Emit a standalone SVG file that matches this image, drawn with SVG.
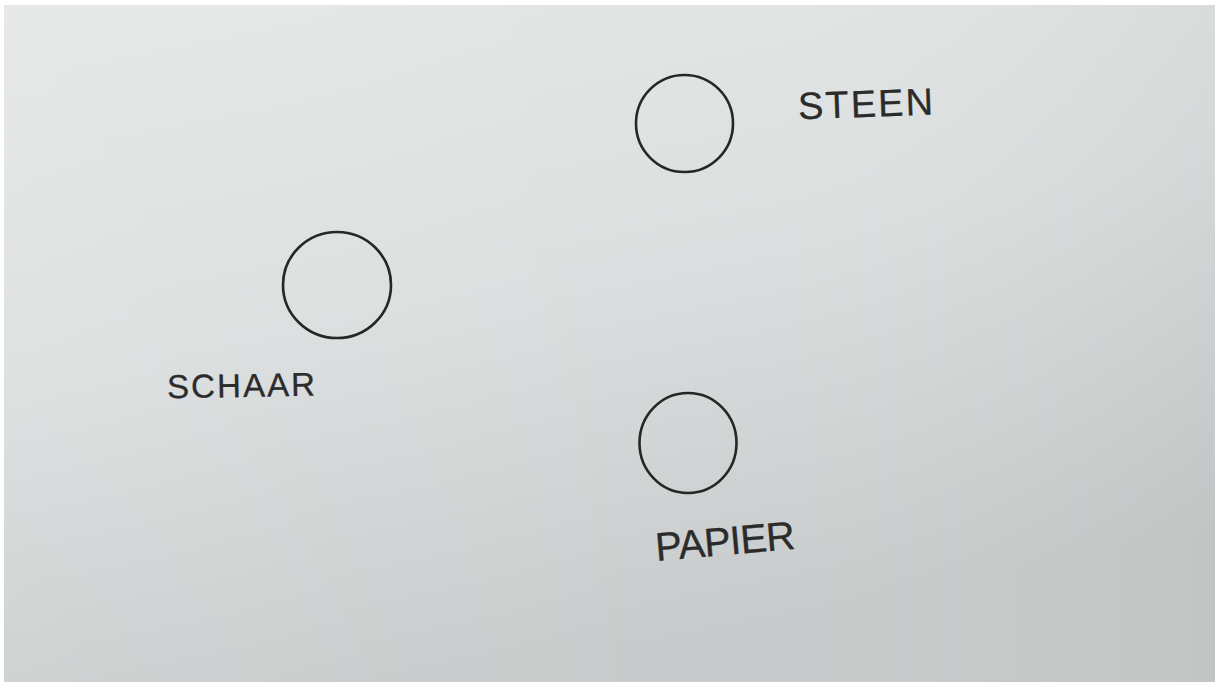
<svg xmlns="http://www.w3.org/2000/svg" width="1215" height="682" viewBox="0 0 1215 682">
  <defs>
    <linearGradient id="paper" x1="0" y1="0" x2="0.35" y2="1">
      <stop offset="0" stop-color="#e6e8e8"/>
      <stop offset="0.5" stop-color="#dcdfdf"/>
      <stop offset="1" stop-color="#c8cbcb"/>
    </linearGradient>
    <linearGradient id="side" x1="0" y1="0" x2="1" y2="0">
      <stop offset="0" stop-color="#ffffff" stop-opacity="0.06"/>
      <stop offset="0.6" stop-color="#ffffff" stop-opacity="0"/>
      <stop offset="1" stop-color="#000000" stop-opacity="0.03"/>
    </linearGradient>
  </defs>
  <style>
    .ring { fill: none; stroke: #262626; stroke-width: 2.6; }
    .label { font-family: "Liberation Sans", "DejaVu Sans", sans-serif; fill: #2b2b2b; stroke: #2b2b2b; stroke-width: 0.3; }
  </style>
  <rect x="0" y="0" width="1215" height="682" fill="#ffffff"/>
  <rect x="4" y="5" width="1211" height="677" fill="url(#paper)"/>
  <rect x="4" y="5" width="1211" height="677" fill="url(#side)"/>

  <g id="steen">
    <ellipse class="ring" cx="684.5" cy="123.5" rx="48.5" ry="48.5"/>
    <text class="label" x="798" y="117" font-size="38" textLength="135" lengthAdjust="spacing" transform="rotate(-2 865 105)">STEEN</text>
  </g>

  <g id="schaar">
    <ellipse class="ring" cx="337" cy="285" rx="54" ry="53"/>
    <text class="label" x="167" y="397" font-size="33" textLength="148" lengthAdjust="spacing" transform="rotate(-1 240 385)">SCHAAR</text>
  </g>

  <g id="papier">
    <ellipse class="ring" cx="688" cy="443" rx="48.5" ry="50"/>
    <text class="label" x="655" y="555" font-size="40" textLength="140" lengthAdjust="spacing" transform="rotate(-5 725 540)">PAPIER</text>
  </g>

  <g id="connectors"/>
</svg>
